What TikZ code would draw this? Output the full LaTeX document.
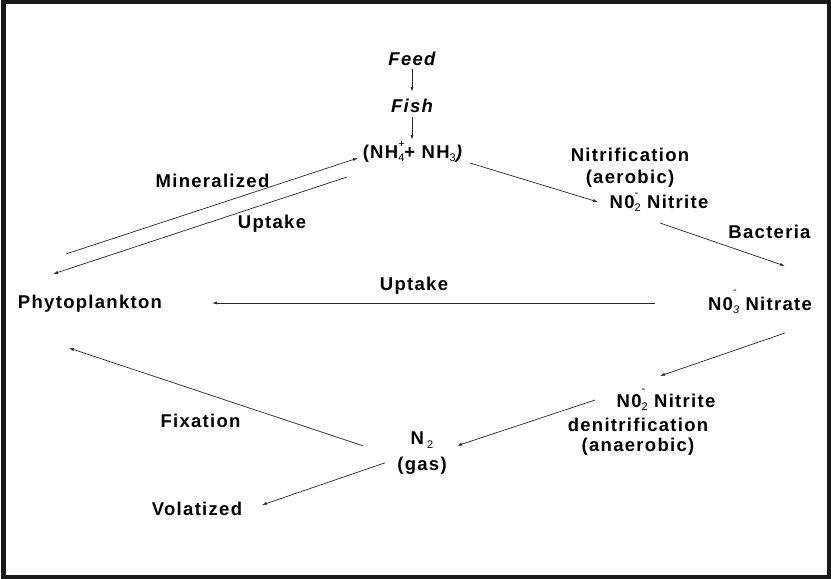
\documentclass[tikz,border=0pt]{standalone}
\usepackage{fontspec}
\setmainfont{Liberation Sans}[LetterSpace=7]
\usepackage{tikz}
\usetikzlibrary{arrows.meta}

% stacked sub/superscript for the ions
\newcommand{\ion}[3]{\rlap{\raisebox{#3}{\fontsize{11}{11}\selectfont\mdseries #2}}\raisebox{-0.2em}{\fontsize{11}{11}\selectfont\mdseries #1}}

\begin{document}
\begin{tikzpicture}[
    x=1pt, y=-1pt,
    >={Latex[length=5pt,width=3pt]},
    lbl/.style={font=\fontsize{18.5}{20}\selectfont\bfseries, inner sep=0pt, anchor=base},
    multi/.style={font=\fontsize{18.5}{22}\selectfont\bfseries, inner sep=0pt, align=center},
    flow/.style={->, line width=0.7pt, draw=black!85}
]
\useasboundingbox (0,0) rectangle (831,579);
\draw[line width=4.5pt, black!90] (3.5,2) rectangle (829,577);

% Top chain
\node[lbl] (feed) at (412,65) {\itshape Feed};
\node[lbl] (fish) at (412,112) {\itshape Fish};
\node[lbl] (nh) at (413,158) {(NH\ion{4}{+}{0.55em}+ NH\raisebox{-0.2em}{\fontsize{11}{11}\selectfont\mdseries 3}\textit{)}};

% Nitrification side
\node[multi] (nitrif) at (630,168.2) {Nitrification\\(aerobic)};
\node[lbl] (nitrite) at (659,208) {N0\ion{2}{-}{0.62em} Nitrite};
\node[lbl] (bact) at (769.5,238) {Bacteria};
\node[lbl] (nitrate) at (760,310) {N0\ion{\itshape 3}{-}{0.9em} Nitrate};

% Denitrification side
\node[lbl] (nitrite2) at (666,407) {N0\ion{2}{-}{0.8em} Nitrite};
\node[multi, font=\fontsize{18.5}{19.3}\selectfont\bfseries] (denit) at (638,436.6) {denitrification\\(anaerobic)};
\node[multi, font=\fontsize{18.5}{26}\selectfont\bfseries] (n2) at (422,453.4) {N\,\raisebox{-0.2em}{\fontsize{11}{11}\selectfont\mdseries 2}\\(gas)};

% Phytoplankton side
\node[lbl] (phyto) at (90,308) {Phytoplankton};
\node[lbl] (miner) at (212.5,187) {Mineralized};
\node[lbl] (uptake_nh) at (272,228) {Uptake};
\node[lbl] (uptake_no) at (414,290) {Uptake};
\node[lbl] (fix) at (200.5,427) {Fixation};
\node[lbl] (volat) at (197,515) {Volatized};

% Connections
\draw[flow] ([shift={(0,4)}]feed.base) -- ([shift={(0,-20)}]fish.base);
\draw[flow] ([shift={(0,5)}]fish.base) -- ([shift={(-1,-18)}]nh.base);
\draw[flow] ([shift={(-24,-54)}]phyto.base) -- ([shift={(-55,0)}]nh.base);
\draw[flow] ([shift={(-66,19)}]nh.base) -- ([shift={(-37,-34)}]phyto.base);
\draw[flow] ([shift={(57,5)}]nh.base) -- ([shift={(-61,-6)}]nitrite.base);
\draw[flow] ([shift={(1,15)}]nitrite.base) -- ([shift={(25,-44)}]nitrate.base);
\draw[flow] ([shift={(-105,-7)}]nitrate.base) -- ([shift={(122,-5)}]phyto.base);
\draw[flow] ([shift={(25,23)}]nitrate.base) -- ([shift={(-6,-31)}]nitrite2.base);
\draw[flow] ([shift={(-71,-7)}]nitrite2.base) -- ([shift={(35,-7.6)}]n2.center);
\draw[flow] ([shift={(-59,-7.6)}]n2.center) -- ([shift={(-21,40)}]phyto.base);
\draw[flow] ([shift={(-37,9.4)}]n2.center) -- ([shift={(65,-10)}]volat.base);

\end{tikzpicture}
\end{document}
